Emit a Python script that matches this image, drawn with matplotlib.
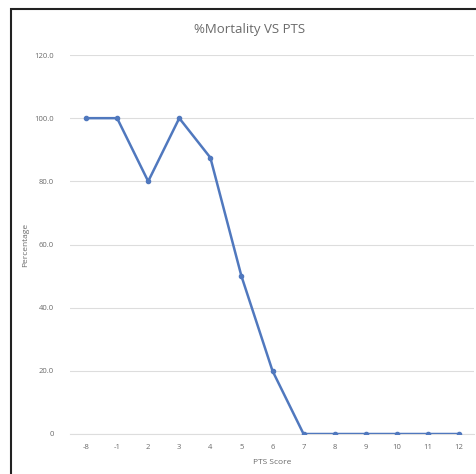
import matplotlib
matplotlib.use("Agg")
import matplotlib.pyplot as plt
from matplotlib.patches import Rectangle

categories = ["-8", "-1", "2", "3", "4", "5", "6", "7", "8", "9", "10", "11", "12"]
mortality = [100, 100, 80, 100, 87.5, 50, 20, 0, 0, 0, 0, 0, 0]
y_ticks = [0, 20, 40, 60, 80, 100, 120]
y_tick_labels = ["0", "20.0", "40.0", "60.0", "80.0", "100.0", "120.0"]

plt.rcParams['font.family'] = ['Open Sans', 'DejaVu Sans']

fig = plt.figure(figsize=(4.77, 4.74), dpi=100)
fig.patch.set_facecolor("white")
ax = fig.add_axes([70.5/477, 1-434/474, (474.5-70.5)/477, (434-55)/474])

x = list(range(len(categories)))
ax.plot(x, mortality, color="#5078BE", linewidth=1.8, marker="o", markersize=3, zorder=3)

ax.set_xlim(-0.5, len(categories) - 0.5)
ax.set_ylim(0, 120)
ax.set_yticks(y_ticks)
ax.set_yticklabels(y_tick_labels)
ax.set_xticks(x)
ax.set_xticklabels(categories)
ax.grid(axis="y", color="#DDDDDD", linewidth=0.8)
ax.set_axisbelow(True)
for s in ["top", "right", "left"]:
    ax.spines[s].set_visible(False)
ax.spines["bottom"].set_color("#DDDDDD")
ax.tick_params(axis="both", length=0, labelsize=5.5, colors="#6A6A6A")
ax.tick_params(axis="y", pad=12)
ax.tick_params(axis="x", pad=7)

ax.set_xlabel("PTS Score", fontsize=6, color="#6A6A6A", labelpad=6)
ax.set_ylabel("Percentage", fontsize=6, color="#6A6A6A", labelpad=4)
fig.text(250/477, 1-30/474, "%Mortality VS PTS", ha="center", va="center", fontsize=9.5, color="#6A6A6A")

fig.patches.append(Rectangle((11/477, -0.1), 1.2, 1-9/474+0.1, transform=fig.transFigure,
                             fill=False, edgecolor="#222222", linewidth=1.5))

fig.savefig("out.png", dpi=100, facecolor="white")
